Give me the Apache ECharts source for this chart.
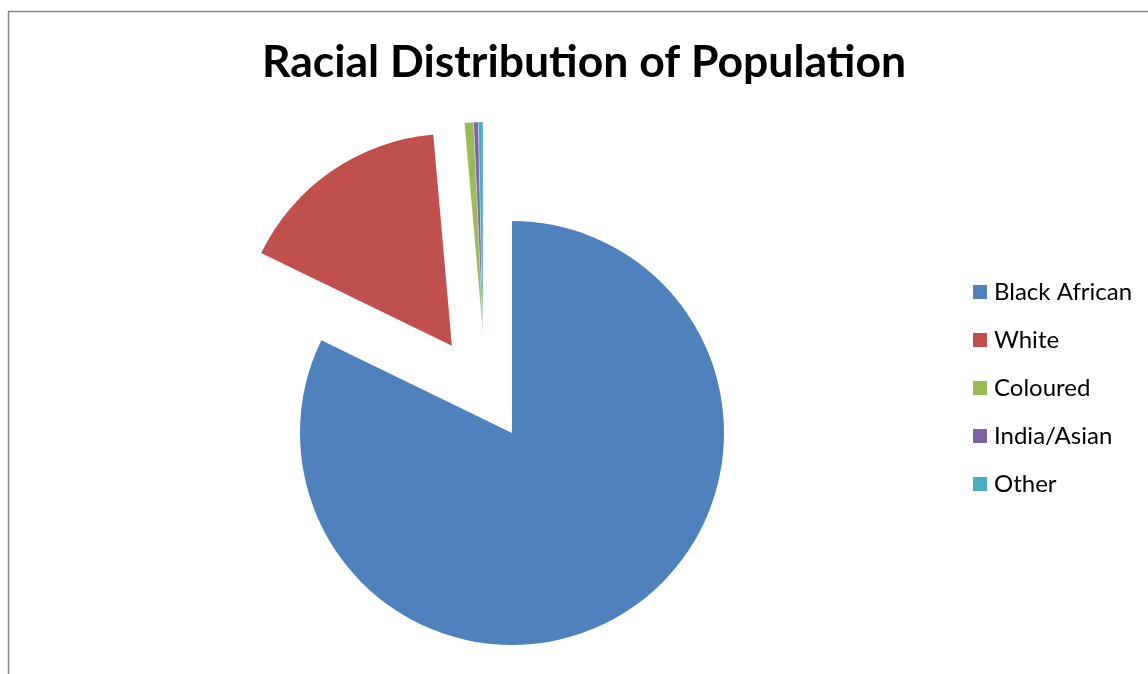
<!DOCTYPE html>
<html>
<head>
<meta charset="utf-8">
<script src="https://cdn.jsdelivr.net/npm/echarts@6/dist/echarts.min.js"></script>
<style>
html,body{margin:0;padding:0;background:#fff;}
#chart{width:1148px;height:674px;}
</style>
</head>
<body>
<div id="chart"></div>
<script>
// Data (percent of population)
const categories = ['Black African', 'White', 'Coloured', 'India/Asian', 'Other'];
const values = [82.2, 16.4, 0.7, 0.35, 0.35];
const colors = ['#4F81BD', '#C0504D', '#9BBB59', '#8064A2', '#4BACC6'];
const titleText = 'Racial Distribution of Population';

const chart = echarts.init(document.getElementById('chart'), null, {renderer: 'canvas'});
const clear = 'rgba(0,0,0,0)';

// main pie: Black African (in place) and White (exploded)
const mainData = categories.map((c, i) => ({
  name: c,
  value: values[i],
  selected: i === 1,
  itemStyle: {color: i < 2 ? colors[i] : clear}
}));
// small slices, exploded as a group
const smallData = categories.map((c, i) => ({
  name: c,
  value: values[i],
  itemStyle: i >= 2
    ? {color: colors[i], borderColor: '#fff', borderWidth: 0.3}
    : {color: clear, borderWidth: 0}
}));

const pieCommon = {
  type: 'pie',
  radius: 212,
  startAngle: 90,
  clockwise: true,
  label: {show: false},
  labelLine: {show: false},
  emphasis: {disabled: true},
  animation: false,
  silent: true,
  avoidLabelOverlap: false
};

chart.setOption({
  backgroundColor: '#fff',
  animation: false,
  title: {
    text: titleText,
    left: 584,
    textAlign: 'center',
    top: 40,
    padding: 0,
    textStyle: {fontFamily: 'Lato', fontWeight: 'bold', fontSize: 44.5, color: '#000'}
  },
  legend: {
    orient: 'vertical',
    left: 968,
    top: 274,
    icon: 'rect',
    itemWidth: 14,
    itemHeight: 14,
    itemGap: 22,
    textStyle: {fontFamily: 'Lato', fontSize: 24, color: '#000', lineHeight: 26, padding: [0, 0, 0, 2]},
    data: categories.map((c, i) => ({name: c, itemStyle: {color: colors[i]}}))
  },
  graphic: [{
    type: 'polyline',
    shape: {points: [[8.5, 674], [8.5, 11.5], [1148, 11.5]]},
    style: {stroke: '#868686', lineWidth: 1.5, fill: null},
    silent: true
  }],
  series: [
    Object.assign({}, pieCommon, {
      name: 'main',
      center: [512, 433],
      selectedMode: 'multiple',
      selectedOffset: 106,
      data: mainData
    }),
    Object.assign({}, pieCommon, {
      name: 'small',
      center: [483, 334],
      selectedMode: false,
      data: smallData
    })
  ]
});
</script>
</body>
</html>
